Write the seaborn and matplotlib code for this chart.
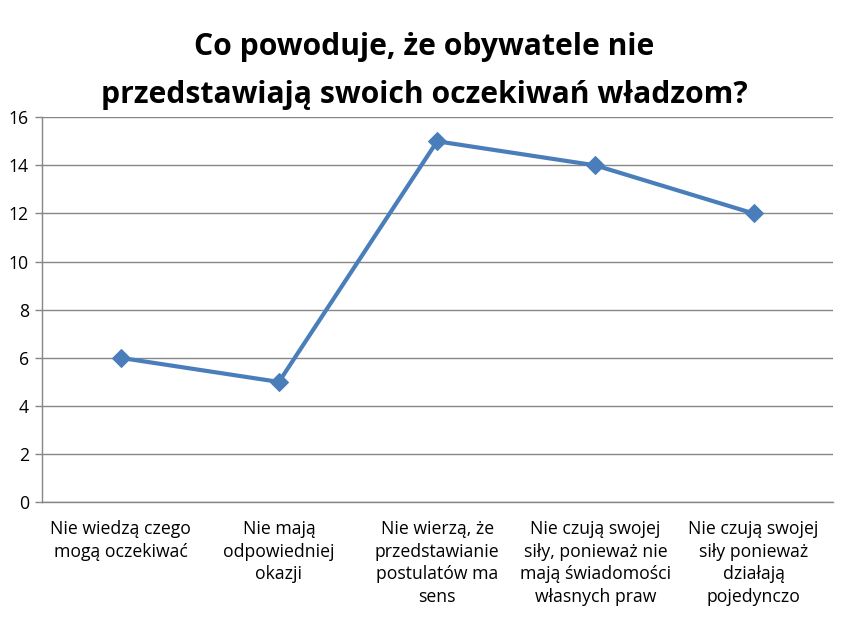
import pandas as pd
import numpy as np
import matplotlib.pyplot as plt
import seaborn as sns
from matplotlib.ticker import FixedLocator

# ============================
# DANE
# ============================
kategorie = [
    "Nie wiedzą czego\nmogą oczekiwać",
    "Nie mają\nodpowiedniej\nokazji",
    "Nie wierzą, że\nprzedstawianie\npostulatów ma\nsens",
    "Nie czują swojej\nsiły, ponieważ nie\nmają świadomości\nwłasnych praw",
    "Nie czują swojej\nsiły ponieważ\ndziałają\npojedynczo",
]
wartosci = [6, 5, 15, 14, 12]
tytul = "Co powoduje, że obywatele nie\nprzedstawiają swoich oczekiwań władzom?"

df = pd.DataFrame({"x": np.arange(len(kategorie)), "y": wartosci})

# ============================
# STYL
# ============================
sns.set_style("white")
plt.rcParams["font.family"] = ["Open Sans", "DejaVu Sans"]
plt.rcParams["text.color"] = "black"
plt.rcParams["xtick.color"] = "black"
plt.rcParams["ytick.color"] = "black"

fig = plt.figure(figsize=(8.48, 6.17), dpi=100)
ax = fig.add_axes([0.049, 0.186, 0.933, 0.624])

sns.lineplot(
    data=df, x="x", y="y", ax=ax,
    color="#4A7EBB", linewidth=3, marker="D", markersize=9,
    markeredgecolor="#4A7EBB",
)

ax.set_xlim(-0.5, len(kategorie) - 0.5)
ax.set_ylim(0, 16)
ax.set_yticks(range(0, 17, 2))
ax.yaxis.grid(True, color="#868686", linewidth=1)
ax.set_axisbelow(True)

ax.set_xticks(range(len(kategorie)))
ax.set_xticklabels(kategorie, fontsize=12.7, linespacing=1.32)
ax.tick_params(axis="x", length=0, pad=13)
ax.xaxis.set_minor_locator(FixedLocator(np.arange(-0.5, len(kategorie), 1)))
ax.tick_params(axis="x", which="minor", length=5, color="#868686", width=1)
ax.tick_params(axis="y", length=5, color="#868686", labelcolor="black",
               width=1, labelsize=12.7, pad=4, left=True)

for s in ["top", "right"]:
    ax.spines[s].set_visible(False)
for s in ["left", "bottom"]:
    ax.spines[s].set_color("#868686")
    ax.spines[s].set_linewidth(1)

ax.set_xlabel("")
ax.set_ylabel("")

fig.text(0.5, 0.885, tytul, ha="center", va="center", color="black",
         fontsize=21.7, fontweight="bold", linespacing=1.8)

fig.savefig("out.png", dpi=100)
